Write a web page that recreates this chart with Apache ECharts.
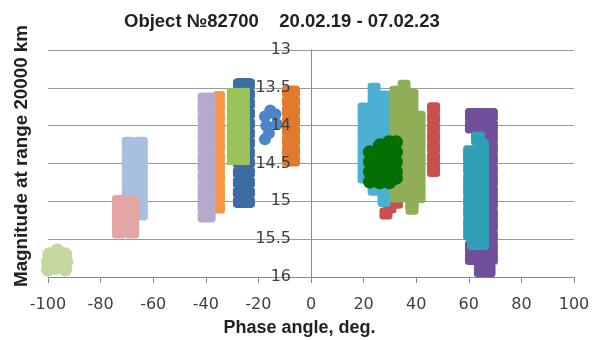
<!DOCTYPE html>
<html>
<head>
<meta charset="utf-8">
<script src="https://cdn.jsdelivr.net/npm/echarts@6/dist/echarts.min.js"></script>
<style>
html, body { margin: 0; padding: 0; background: #fff; }
#chart { width: 598px; height: 340px; }
</style>
</head>
<body>
<div id="chart"></div>
<script>
// axis ranges
var phaseRange = [-100, 100];
var magRange = [13, 16];

// [phase angle, magnitude] points
var lightGreen = [[-99.5, 15.7], [-96.5, 15.65], [-93.5, 15.7], [-100, 15.8], [-96.5, 15.78], [-93, 15.8],
  [-100, 15.9], [-97, 15.88], [-93.5, 15.9], [-101, 15.93]];
var lightBlue = [[-69.3, 14.24], [-64.7, 14.24], [-69.3, 14.37], [-64.7, 14.37], [-69.3, 14.5], [-64.7, 14.5],
  [-69.3, 14.63], [-64.7, 14.63], [-69.3, 14.76], [-64.7, 14.76], [-69.3, 14.89], [-64.7, 14.89],
  [-64.7, 15.02], [-64.7, 15.16]];
var pink = [[-73, 15.01], [-68, 15.01], [-73, 15.14], [-68, 15.14], [-73, 15.27], [-68, 15.27], [-73, 15.4], [-68, 15.4]];
var orange = [[-35, 13.62], [-35, 13.75], [-35, 13.89], [-35, 14.02], [-35, 14.15], [-35, 14.28], [-35, 14.42],
  [-35, 14.55], [-35, 14.68], [-35, 14.81], [-35, 14.94], [-35, 15.08]];
var lavender = [[-39.7, 13.64], [-39.7, 13.77], [-39.7, 13.9], [-39.7, 14.03], [-39.7, 14.16], [-39.7, 14.29],
  [-39.7, 14.42], [-39.7, 14.55], [-39.7, 14.68], [-39.7, 14.81], [-39.7, 14.94], [-39.7, 15.07], [-39.7, 15.2]];
var darkBlue = [[-25.5, 13.45], [-25.5, 13.58], [-25.5, 13.71], [-25.5, 13.84], [-25.5, 13.97], [-25.5, 14.1],
  [-25.5, 14.23], [-25.5, 14.36], [-25.5, 14.49], [-25.5, 14.62], [-25.5, 14.75], [-25.5, 14.88], [-25.5, 15.01]];
var green = [[-27.6, 13.58], [-27.6, 13.71], [-27.6, 13.84], [-27.6, 13.97], [-27.6, 14.1], [-27.6, 14.23],
  [-27.6, 14.36], [-27.6, 14.44]];
var midBlue = [[-17.5, 13.88], [-13.5, 13.85], [-17, 14.0], [-13, 13.98], [-16, 14.1], [-15.5, 13.8], [-17.5, 14.18]];
var darkOrange = [[-7.6, 13.55], [-7.6, 13.68], [-7.6, 13.81], [-7.6, 13.94], [-7.6, 14.07], [-7.6, 14.2],
  [-7.6, 14.33], [-7.6, 14.46]];
var red = [[46.6, 13.77], [46.6, 13.9], [46.6, 14.03], [46.6, 14.16], [46.6, 14.29], [46.6, 14.42], [46.6, 14.55],
  [46.6, 14.6], [31.5, 14.92], [32.5, 15.02], [30, 15.08], [28.5, 15.16]];
var cyan = [[20.2, 13.78], [20.2, 13.91], [20.2, 14.05], [20.2, 14.18], [20.2, 14.31], [20.2, 14.44], [20.2, 14.57], [20.2, 14.68],
  [24, 13.52], [24, 13.65], [24, 13.78], [24, 13.91], [24, 14.05], [24, 14.18], [24, 14.31], [24, 14.44], [24, 14.57],
  [24, 14.71], [24, 14.84],
  [27.8, 13.62], [27.8, 13.75], [27.8, 13.88], [27.8, 14.01], [27.8, 14.14], [27.8, 14.27], [27.8, 14.4], [27.8, 14.53],
  [27.8, 14.66], [27.8, 14.79], [27.8, 14.92], [27.8, 14.99]];
var olive = [[32.3, 13.56], [32.3, 13.69], [32.3, 13.82], [32.3, 13.95], [32.3, 14.08], [32.3, 14.22], [32.3, 14.35],
  [32.3, 14.48], [32.3, 14.61], [32.3, 14.75], [32.3, 14.88], [32.3, 14.93],
  [35.4, 13.48], [35.4, 13.61], [35.4, 13.74], [35.4, 13.87], [35.4, 14.0], [35.4, 14.14], [35.4, 14.27], [35.4, 14.4],
  [35.4, 14.53], [35.4, 14.66], [35.4, 14.8], [35.4, 14.93],
  [38.4, 13.6], [38.4, 13.73], [38.4, 13.86], [38.4, 13.99], [38.4, 14.12], [38.4, 14.26], [38.4, 14.39], [38.4, 14.52],
  [38.4, 14.65], [38.4, 14.78], [38.4, 14.91], [38.4, 15.04], [38.4, 15.09],
  [41.1, 13.89], [41.1, 14.02], [41.1, 14.15], [41.1, 14.28], [41.1, 14.42], [41.1, 14.55], [41.1, 14.68], [41.1, 14.81],
  [41.1, 14.94]];
var darkGreen = [[22.4, 14.35], [22.4, 14.48], [22.4, 14.61], [22.4, 14.74],
  [26.2, 14.26], [26.2, 14.39], [26.2, 14.52], [26.2, 14.65], [26.2, 14.75],
  [29.7, 14.22], [29.7, 14.35], [29.7, 14.48], [29.7, 14.61], [29.7, 14.75],
  [32.3, 14.22], [32.3, 14.35], [32.3, 14.48], [32.3, 14.61], [32.3, 14.69]];
var purple = [[61.2, 13.86], [61.2, 14.01], [61.2, 15.61], [61.2, 15.75],
  [64.6, 13.86], [64.6, 14.01], [64.6, 14.15], [64.6, 15.61], [64.6, 15.75], [64.6, 15.91],
  [68.4, 13.86], [68.4, 14.01], [68.4, 14.15], [68.4, 14.3], [68.4, 14.44], [68.4, 14.59], [68.4, 14.73], [68.4, 14.88],
  [68.4, 15.02], [68.4, 15.17], [68.4, 15.31], [68.4, 15.46], [68.4, 15.61], [68.4, 15.75], [67.5, 15.91]];
var teal = [[63.5, 14.17], [65, 14.27], [60.5, 14.35],
  [60.5, 14.42], [65, 14.42], [60.5, 14.56], [65, 14.56], [60.5, 14.71], [65, 14.71], [60.5, 14.85], [65, 14.85],
  [60.5, 15.0], [65, 15.0], [60.5, 15.14], [65, 15.14], [60.5, 15.29], [65, 15.29], [60.5, 15.43], [65, 15.43],
  [62, 15.55], [65, 15.55]];

var fontName = '"Liberation Sans", Arial, sans-serif';
var tickFont = '"DejaVu Sans", sans-serif';

function cluster(data, color, symbol, size) {
  return {
    type: 'scatter',
    data: data,
    symbol: symbol,
    symbolSize: size,
    itemStyle: { color: color, opacity: 1 },
    emphasis: { disabled: true },
    silent: true
  };
}

var chart = echarts.init(document.getElementById('chart'), null, { renderer: 'canvas' });

var option = {
  animation: false,
  backgroundColor: '#fff',
  title: {
    text: 'Object №82700    20.02.19 - 07.02.23',
    left: 119,
    top: 7,
    textStyle: { fontFamily: fontName, fontWeight: 'bold', fontSize: 18.5, color: '#222' }
  },
  grid: { left: 48, right: 24, top: 50, bottom: 63, outerBoundsMode: 'none' },
  xAxis: [{
    type: 'value',
    min: phaseRange[0],
    max: phaseRange[1],
    interval: 20,
    name: 'Phase angle, deg.',
    nameLocation: 'middle',
    nameGap: 42,
    nameTextStyle: { fontFamily: fontName, fontWeight: 'bold', fontSize: 18, color: '#222', padding: [0, 23, 0, 0] },
    axisLine: { show: true, onZero: false, lineStyle: { color: '#8c8c8c' } },
    axisTick: { show: true, length: 6, lineStyle: { color: '#8c8c8c' } },
    axisLabel: { margin: 20, fontFamily: tickFont, fontSize: 16, color: '#404040' },
    splitLine: { show: false }
  }],
  yAxis: [{
    type: 'value',
    inverse: true,
    min: magRange[0],
    max: magRange[1],
    interval: 0.5,
    position: 'left',
    axisLine: { show: true, onZero: true, lineStyle: { color: '#8c8c8c' } },
    axisTick: { show: false },
    axisLabel: { show: false },
    splitLine: { show: true, lineStyle: { color: '#9a9a9a' } }
  }, {
    // labels only, moved onto phase 0 and drawn over the clusters
    type: 'value',
    inverse: true,
    min: magRange[0],
    max: magRange[1],
    interval: 0.5,
    position: 'left',
    offset: -263,
    z: 10,
    axisLine: { show: false, onZero: false },
    axisTick: { show: false },
    axisLabel: { margin: 20, fontFamily: tickFont, fontSize: 16, color: '#404040' },
    splitLine: { show: false }
  }],
  graphic: [{
    type: 'text',
    x: 22,
    y: 156,
    rotation: Math.PI / 2,
    style: {
      text: 'Magnitude at range 20000 km',
      font: 'bold 18.8px ' + fontName,
      fill: '#222',
      align: 'center',
      verticalAlign: 'middle'
    }
  }],
  series: [
    cluster(lightGreen, '#c3d89e', 'circle', 14),
    cluster(lightBlue, '#a7bfe1', 'roundRect', 14),
    cluster(pink, '#e3a6a5', 'roundRect', 14),
    cluster(orange, '#f79646', 'roundRect', 12),
    cluster(lavender, '#b5a9cd', 'roundRect', [18, 12]),
    cluster(darkBlue, '#3d6ba3', 'roundRect', [22, 12]),
    cluster(green, '#9bc35b', 'rect', [23, 12]),
    cluster(midBlue, '#4a86c8', 'circle', 12),
    cluster(darkOrange, '#e07b2d', 'roundRect', [18, 12]),
    cluster(red, '#c8504d', 'roundRect', [13, 12]),
    cluster(cyan, '#4bb0d2', 'roundRect', 13),
    cluster(olive, '#8fae56', 'roundRect', 13),
    cluster(darkGreen, '#047004', 'circle', 14),
    cluster(purple, '#70509a', 'roundRect', 14),
    cluster(teal, '#2fa0b6', 'roundRect', 14)
  ]
};

chart.setOption(option);
</script>
</body>
</html>
